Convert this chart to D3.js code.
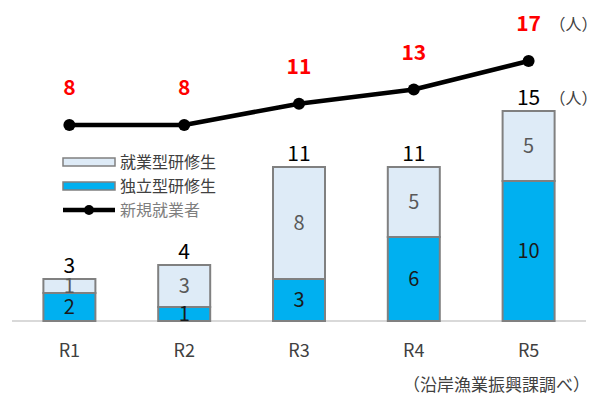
<!DOCTYPE html>
<html>
<head>
<meta charset="utf-8">
<script src="https://cdn.jsdelivr.net/npm/d3@7"></script>
<style>
  html, body { margin: 0; padding: 0; background: #fff; }
  svg { display: block; font-family: "Noto Sans CJK JP", "Noto Sans", sans-serif; }
</style>
</head>
<body>
<svg id="chart" width="602" height="396"></svg>
<script>
// Fiscal years
const years = ["R1", "R2", "R3", "R4", "R5"];
// 独立型研修生 (bottom segment)
const independent = [2, 1, 3, 6, 10];
// 就業型研修生 (top segment)
const employed = [1, 3, 8, 5, 5];
// 新規就業者 (line)
const newWorkers = [8, 8, 11, 13, 17];

const seriesNames = ["独立型研修生", "就業型研修生"];
const legendNames = ["就業型研修生", "独立型研修生", "新規就業者"];

const colors = { independent: "#00B0F0", employed: "#DEEBF7", stroke: "#808080", line: "#000000" };

const svg = d3.select("#chart");

const baseline = 321;

const x = d3.scaleBand()
  .domain(years)
  .range([12, 586])
  .paddingInner(0.547)
  .paddingOuter(0.2735);

// Bar value scale: 14 px per person
const y = d3.scaleLinear().domain([0, 15]).range([baseline, baseline - 15 * 14]);

// Line value scale (secondary)
const y2 = d3.scaleLinear().domain([8, 17]).range([125, 61]);

// Stacked data
const table = years.map((yr, i) => ({ year: yr, "独立型研修生": independent[i], "就業型研修生": employed[i] }));
const stack = d3.stack().keys(seriesNames)(table);

const fills = { "独立型研修生": colors.independent, "就業型研修生": colors.employed };

// Axis baseline
svg.append("line")
  .attr("x1", 12).attr("x2", 586)
  .attr("y1", baseline).attr("y2", baseline)
  .attr("stroke", "#D9D9D9").attr("stroke-width", 2);

// Bars
stack.forEach(layer => {
  const g = svg.append("g");
  g.selectAll("rect").data(layer).enter().append("rect")
    .attr("x", d => x(d.data.year))
    .attr("y", d => y(d[1]))
    .attr("width", x.bandwidth())
    .attr("height", d => y(d[0]) - y(d[1]))
    .attr("fill", fills[layer.key])
    .attr("stroke", colors.stroke)
    .attr("stroke-width", 2);
});

// Segment labels
stack.forEach(layer => {
  svg.append("g").selectAll("text").data(layer).enter().append("text")
    .attr("x", d => x(d.data.year) + x.bandwidth() / 2)
    .attr("y", d => (y(d[0]) + y(d[1])) / 2)
    .attr("dy", "0.35em")
    .attr("text-anchor", "middle")
    .attr("font-size", 20)
    .attr("fill", layer.key === "独立型研修生" ? "#1a1a1a" : "#595959")
    .text(d => d[1] - d[0]);
});

// Totals above bars
const totals = years.map((yr, i) => independent[i] + employed[i]);
svg.append("g").selectAll("text").data(years).enter().append("text")
  .attr("x", d => x(d) + x.bandwidth() / 2)
  .attr("y", (d, i) => y(totals[i]) - 13)
  .attr("dy", "0.35em")
  .attr("text-anchor", "middle")
  .attr("font-size", 21)
  .attr("fill", "#000")
  .text((d, i) => totals[i]);

// Unit label next to last total
svg.append("text")
  .attr("x", x("R5") + x.bandwidth() / 2 + 21)
  .attr("y", y(totals[4]) - 13)
  .attr("dy", "0.35em")
  .attr("font-size", 16)
  .attr("fill", "#404040")
  .text("（人）");

// Line
const cx = d => x(d) + x.bandwidth() / 2;
svg.append("path")
  .datum(years)
  .attr("fill", "none")
  .attr("stroke", colors.line)
  .attr("stroke-width", 4.5)
  .attr("stroke-linejoin", "round")
  .attr("d", d3.line().x(d => cx(d)).y((d, i) => y2(newWorkers[i])));

svg.append("g").selectAll("circle").data(years).enter().append("circle")
  .attr("cx", d => cx(d))
  .attr("cy", (d, i) => y2(newWorkers[i]))
  .attr("r", 6)
  .attr("fill", colors.line);

// Line value labels
svg.append("g").selectAll("text").data(years).enter().append("text")
  .attr("x", d => cx(d))
  .attr("y", (d, i) => y2(newWorkers[i]) - 37)
  .attr("dy", "0.35em")
  .attr("text-anchor", "middle")
  .attr("font-size", 21)
  .attr("font-weight", "bold")
  .attr("fill", "#FF0000")
  .text((d, i) => newWorkers[i]);

svg.append("text")
  .attr("x", cx("R5") + 21)
  .attr("y", y2(newWorkers[4]) - 37)
  .attr("dy", "0.35em")
  .attr("font-size", 16)
  .attr("fill", "#404040")
  .text("（人）");

// Category labels
svg.append("g").selectAll("text").data(years).enter().append("text")
  .attr("x", d => cx(d))
  .attr("y", 351)
  .attr("dy", "0.35em")
  .attr("text-anchor", "middle")
  .attr("font-size", 18)
  .attr("fill", "#404040")
  .text(d => d);

// Legend
const legend = svg.append("g").attr("transform", "translate(63,162)");
legendNames.forEach((name, i) => {
  const gy = i * 24;
  if (i < 2) {
    legend.append("rect")
      .attr("x", 0).attr("y", gy - 4)
      .attr("width", 52).attr("height", 8)
      .attr("fill", name === "独立型研修生" ? colors.independent : colors.employed)
      .attr("stroke", colors.stroke).attr("stroke-width", 1.5);
  } else {
    legend.append("line")
      .attr("x1", 0).attr("x2", 52).attr("y1", gy).attr("y2", gy)
      .attr("stroke", colors.line).attr("stroke-width", 4.5);
    legend.append("circle").attr("cx", 26).attr("cy", gy).attr("r", 5).attr("fill", colors.line);
  }
  legend.append("text")
    .attr("x", 57).attr("y", gy)
    .attr("dy", "0.35em")
    .attr("font-size", 16)
    .attr("fill", i < 2 ? "#404040" : "#7f7f7f")
    .text(name);
});

// Source note
svg.append("text")
  .attr("x", 590).attr("y", 385)
  .attr("dy", "0.35em")
  .attr("text-anchor", "end")
  .attr("font-size", 17)
  .attr("fill", "#404040")
  .text("（沿岸漁業振興課調べ）");
</script>
</body>
</html>
